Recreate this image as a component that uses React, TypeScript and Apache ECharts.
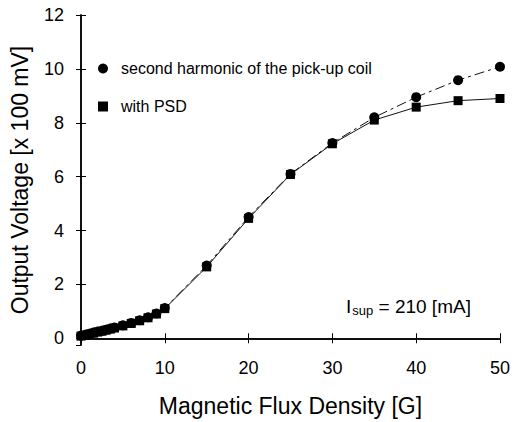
import React, { useEffect, useRef } from "react";
import * as echarts from "echarts";

const xValues = [0, 0.5, 1, 1.5, 2, 2.5, 3, 3.5, 4, 5, 6, 7, 8, 9, 10, 15, 20, 25, 30, 35, 40, 45, 50];
const harmonicValues = [0.1, 0.13, 0.17, 0.21, 0.25, 0.28, 0.32, 0.36, 0.4, 0.48, 0.57, 0.67, 0.78, 0.92, 1.12, 2.7, 4.5, 6.1, 7.25, 8.2, 8.95, 9.58, 10.08];
const psdValues = [0.08, 0.11, 0.15, 0.19, 0.23, 0.26, 0.3, 0.34, 0.38, 0.46, 0.55, 0.65, 0.76, 0.9, 1.1, 2.65, 4.45, 6.08, 7.22, 8.1, 8.58, 8.82, 8.9];
const xTicks = [0, 10, 20, 30, 40, 50];
const seriesNames = ["second harmonic of the pick-up coil", "with PSD"];

const FONT = "Liberation Sans, Arial, Helvetica, sans-serif";

export default function App() {
  const ref = useRef<HTMLDivElement>(null);
  useEffect(() => {
    if (!ref.current) return;
    const chart = echarts.init(ref.current, undefined, { renderer: "svg" });
    const axisCommon = {
      axisLine: { show: true, lineStyle: { color: "#000", width: 1.5 } },
      axisTick: { show: true, inside: true, length: 5, lineStyle: { color: "#000", width: 1 } },
      splitLine: { show: false },
    };
    chart.setOption({
      animation: false,
      backgroundColor: "#fff",
      textStyle: { fontFamily: FONT },
      grid: { left: 73, right: 11, top: 15, bottom: 75, containLabel: false },
      legend: {
        orient: "vertical",
        left: 98,
        top: 60,
        padding: 0,
        itemWidth: 10,
        itemHeight: 10,
        itemGap: 21,
        textStyle: { fontSize: 16, color: "#000", fontFamily: FONT, lineHeight: 17, padding: [0, 0, 0, 8] },
        data: [
          { name: seriesNames[0], icon: "circle" },
          { name: seriesNames[1], icon: "rect" },
        ],
      },
      xAxis: [
        {
          type: "value",
          min: xTicks[0],
          max: xTicks[xTicks.length - 1],
          interval: 10,
          name: "Magnetic Flux Density [G]",
          nameLocation: "middle",
          nameGap: 49,
          nameTextStyle: { fontSize: 23, color: "#000", fontFamily: FONT },
          axisLabel: { fontSize: 18, color: "#000", margin: 14, fontFamily: FONT },
          ...axisCommon,
        },
        {
          type: "value",
          position: "top",
          min: 0,
          max: 50,
          interval: 10,
          axisLabel: { show: false },
          ...axisCommon,
        },
      ],
      yAxis: [
        {
          type: "value",
          min: -0.25,
          max: 12,
          splitNumber: 6,
          name: "Output Voltage [x 100 mV]",
          nameLocation: "middle",
          nameGap: 50,
          nameTextStyle: { fontSize: 23, color: "#000", fontFamily: FONT },
          axisLabel: {
            fontSize: 18,
            color: "#000",
            margin: 17,
            fontFamily: FONT,
            showMinLabel: false,
          },
          ...axisCommon,
        },
        {
          type: "value",
          position: "right",
          min: -0.25,
          max: 12,
          splitNumber: 6,
          axisLabel: { show: false },
          ...axisCommon,
        },
      ],
      series: [
        {
          name: seriesNames[0],
          type: "line",
          data: xValues.map((x, i) => [x, harmonicValues[i]]),
          symbol: "circle",
          symbolSize: 10,
          itemStyle: { color: "#000" },
          lineStyle: { color: "#111", width: 1, type: [10, 4, 3, 4] },
          z: 3,
        },
        {
          name: seriesNames[1],
          type: "line",
          data: xValues.map((x, i) => [x, psdValues[i]]),
          symbol: "rect",
          symbolSize: 9,
          itemStyle: { color: "#000" },
          lineStyle: { color: "#111", width: 1 },
          z: 4,
        },
      ],
      graphic: [
        {
          type: "text",
          left: 346,
          top: 297,
          style: {
            text: "{a|I}{b|sup}{a| = 210 [mA]}",
            fill: "#000",
            rich: {
              a: { fontSize: 19, fontFamily: FONT, fill: "#000" },
              b: { fontSize: 13, fontFamily: FONT, fill: "#000", padding: [8, 0, 0, 1] },
            },
          },
        },
      ],
    });
    return () => chart.dispose();
  }, []);
  return <div ref={ref} style={{ position: "fixed", left: 0, top: 0, width: 513, height: 422 }} />;
}
